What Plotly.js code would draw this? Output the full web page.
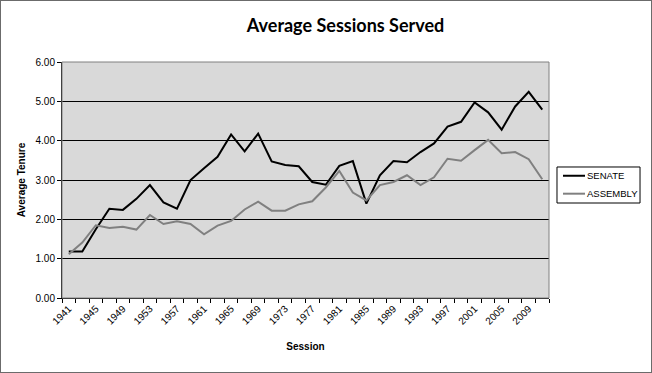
<!DOCTYPE html>
<html>
<head>
<meta charset="utf-8">
<script src="https://cdn.plot.ly/plotly-3.0.1.min.js"></script>
<style>
  html, body { margin: 0; padding: 0; background: #fff; }
  #wrap { position: relative; width: 652px; height: 373px; }
  #chart { width: 652px; height: 373px; }
  #frame { position: absolute; left: 0; top: 0; width: 652px; height: 373px; box-sizing: border-box; border: 1px solid #6b6b6b; pointer-events: none; }
</style>
</head>
<body>
<div id="wrap"><div id="chart"></div><div id="frame"></div></div>
<script>
const sessions = [1941,1943,1945,1947,1949,1951,1953,1955,1957,1959,1961,1963,1965,1967,1969,1971,1973,1975,1977,1979,1981,1983,1985,1987,1989,1991,1993,1995,1997,1999,2001,2003,2005,2007,2009,2011];
const senate = [1.18,1.18,1.75,2.27,2.24,2.52,2.87,2.43,2.27,3.00,3.30,3.59,4.16,3.73,4.18,3.47,3.38,3.35,2.95,2.88,3.36,3.48,2.40,3.12,3.48,3.45,3.71,3.93,4.36,4.48,4.97,4.72,4.28,4.87,5.24,4.79];
const assembly = [1.11,1.41,1.85,1.78,1.81,1.74,2.11,1.88,1.95,1.88,1.62,1.84,1.96,2.25,2.45,2.22,2.22,2.38,2.46,2.81,3.23,2.68,2.48,2.87,2.95,3.12,2.87,3.07,3.54,3.49,3.76,4.02,3.68,3.71,3.53,3.02];
const tickYears = [1941,1945,1949,1953,1957,1961,1965,1969,1973,1977,1981,1985,1989,1993,1997,2001,2005,2009];
const yTicks = [0,1,2,3,4,5,6];
const seriesNames = ['SENATE', 'ASSEMBLY'];
const seriesColors = ['#000000', '#808080'];

const traces = [
  { x: sessions, y: senate, name: seriesNames[0], type: 'scatter', mode: 'lines',
    line: { color: seriesColors[0], width: 2 }, showlegend: false },
  { x: sessions, y: assembly, name: seriesNames[1], type: 'scatter', mode: 'lines',
    line: { color: seriesColors[1], width: 2 }, showlegend: false }
];

// legend drawn as shapes + annotations (paper coordinates)
const legendRows = [0.518, 0.442];
const legendShapes = [
  { type: 'rect', xref: 'paper', yref: 'paper', x0: 1.0164, x1: 1.1869, y0: 0.4025, y1: 0.5551,
    line: { color: '#000', width: 1 }, fillcolor: '#ffffff' }
];
const legendAnn = [];
seriesNames.forEach((n, i) => {
  legendShapes.push({ type: 'line', xref: 'paper', yref: 'paper', x0: 1.0287, x1: 1.0739,
    y0: legendRows[i], y1: legendRows[i], line: { color: seriesColors[i], width: 2 } });
  legendAnn.push({ xref: 'paper', yref: 'paper', x: 1.074, y: legendRows[i], xanchor: 'left', yanchor: 'middle',
    text: n, showarrow: false, font: { size: 9.5, color: '#000' } });
});

const layout = {
  width: 652, height: 373,
  margin: { l: 62, r: 103, t: 62, b: 75, pad: 0 },
  paper_bgcolor: '#ffffff',
  plot_bgcolor: '#d9d9d9',
  font: { family: 'Liberation Sans, Arial, sans-serif', size: 10, color: '#000' },
  title: { text: '<b>Average Sessions Served</b>', x: 0.53, xanchor: 'center', y: 0.93, yanchor: 'middle',
    font: { family: 'Lato, Open Sans, sans-serif', size: 18, color: '#000' } },
  xaxis: {
    type: 'linear', range: [1940, 2012],
    tickvals: tickYears, ticktext: tickYears.map(String),
    tickangle: -45, ticks: '', showgrid: false, zeroline: false,
    showline: true, linecolor: '#000', linewidth: 1,
    minor: { tick0: 1940, dtick: 2, ticks: 'outside', ticklen: 4, tickcolor: '#000', showgrid: false },
    tickfont: { size: 10 },
    title: { text: '<b>Session</b>', font: { size: 10 }, standoff: 17 }
  },
  yaxis: {
    range: [0, 6], tickvals: yTicks, ticktext: yTicks.map(v => v.toFixed(2)),
    ticks: 'outside', ticklen: 4, tickcolor: '#000',
    showgrid: true, gridcolor: '#000', gridwidth: 1, zeroline: false,
    showline: true, linecolor: '#000', linewidth: 1,
    tickfont: { size: 10 },
    title: { text: '<b>Average Tenure</b>', font: { size: 10 }, standoff: 8 }
  },
  showlegend: false,
  annotations: legendAnn,
  shapes: [
    { type: 'rect', xref: 'paper', yref: 'paper', x0: 0, x1: 1, y0: 0, y1: 1,
      line: { color: '#808080', width: 1 }, fillcolor: 'rgba(0,0,0,0)', layer: 'above' }
  ].concat(legendShapes)
};

Plotly.newPlot('chart', traces, layout, { displayModeBar: false, staticPlot: true });
</script>
</body>
</html>
